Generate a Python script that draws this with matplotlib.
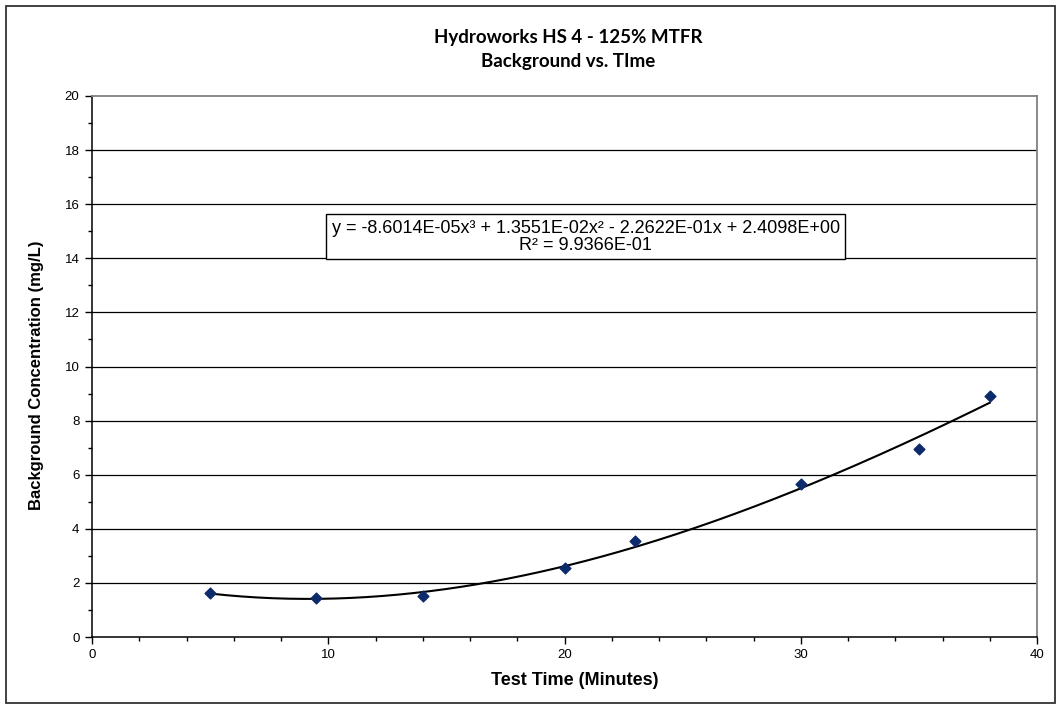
import numpy as np
import matplotlib
matplotlib.use("Agg")
import matplotlib.pyplot as plt
from matplotlib.patches import Rectangle

# Data
test_time = [5, 9.5, 14, 20, 23, 30, 35, 38]
background = [1.62, 1.45, 1.52, 2.55, 3.55, 5.65, 6.95, 8.9]
# Trendline coefficients as printed on the chart (cubic, highest power first)
trend_coeffs = [-8.6014e-05, 1.3551e-02, -2.2622e-01, 2.4098e+00]
x_ticks = [0, 10, 20, 30, 40]
y_ticks = [0, 2, 4, 6, 8, 10, 12, 14, 16, 18, 20]
title = "Hydroworks HS 4 - 125% MTFR\nBackground vs. TIme"
xlabel = "Test Time (Minutes)"
ylabel = "Background Concentration (mg/L)"
eq_text = "y = -8.6014E-05x³ + 1.3551E-02x² - 2.2622E-01x + 2.4098E+00\nR² = 9.9366E-01"

plt.rcParams['font.family'] = ['Liberation Sans', 'DejaVu Sans']

fig = plt.figure(figsize=(10.62, 7.09), dpi=100)
W, H = 1062, 709
ax = fig.add_axes([92 / W, (H - 637) / H, (1037 - 92) / W, (637 - 96) / H])

# outer chart border
fig.patches.append(Rectangle((6 / W, 6 / H), (1055 - 6) / W, (703 - 6) / H,
                             transform=fig.transFigure, fill=False,
                             edgecolor='#333333', linewidth=1.3))

ax.set_xlim(0, 40)
ax.set_ylim(0, 20)
ax.set_xticks(x_ticks)
ax.set_yticks(y_ticks)
ax.set_xticks(np.arange(0, 41, 2), minor=True)
ax.set_yticks(np.arange(1, 20, 2), minor=True)
ax.tick_params(axis='both', which='major', direction='out', length=5, width=1,
               labelsize=9.5, color='black')
ax.tick_params(axis='both', which='minor', direction='out', length=3, width=1, color='black')
ax.tick_params(axis='x', which='major', pad=4)
ax.tick_params(axis='y', which='major', pad=4)

for yv in y_ticks[1:-1]:
    ax.axhline(yv, color='black', linewidth=0.9, zorder=1)

ax.spines['left'].set_color('black')
ax.spines['bottom'].set_color('black')
ax.spines['left'].set_linewidth(1.1)
ax.spines['bottom'].set_linewidth(1.1)
ax.spines['top'].set_color('#808080')
ax.spines['right'].set_color('#808080')
ax.spines['top'].set_linewidth(1.3)
ax.spines['right'].set_linewidth(1.3)

# trendline
xt = np.linspace(min(test_time), max(test_time), 200)
ax.plot(xt, np.polyval(trend_coeffs, xt), color='black', linewidth=1.5, zorder=3)

ax.scatter(test_time, background, marker='D', s=30, color='#0D2B6B',
           edgecolors='#0D2B6B', zorder=4)

ax.text(20.9, 14.8, eq_text, ha='center', va='center', fontsize=13,
        linespacing=1.0, zorder=5,
        bbox=dict(boxstyle='square,pad=0.3', facecolor='white',
                  edgecolor='black', linewidth=1))

ax.set_xlabel(xlabel, fontsize=13, fontweight='bold', labelpad=8)
ax.xaxis.set_label_coords(0.511, -0.065)
ax.set_ylabel(ylabel, fontsize=12, fontweight='bold')
ax.yaxis.set_label_coords(-0.051, 0.484)

fig.text(568 / W, 1 - 50 / H, title, ha='center', va='center', fontsize=13.5,
         fontweight='bold', family=['Lato', 'DejaVu Sans'], linespacing=1.5)

fig.savefig("out.png", dpi=100)
